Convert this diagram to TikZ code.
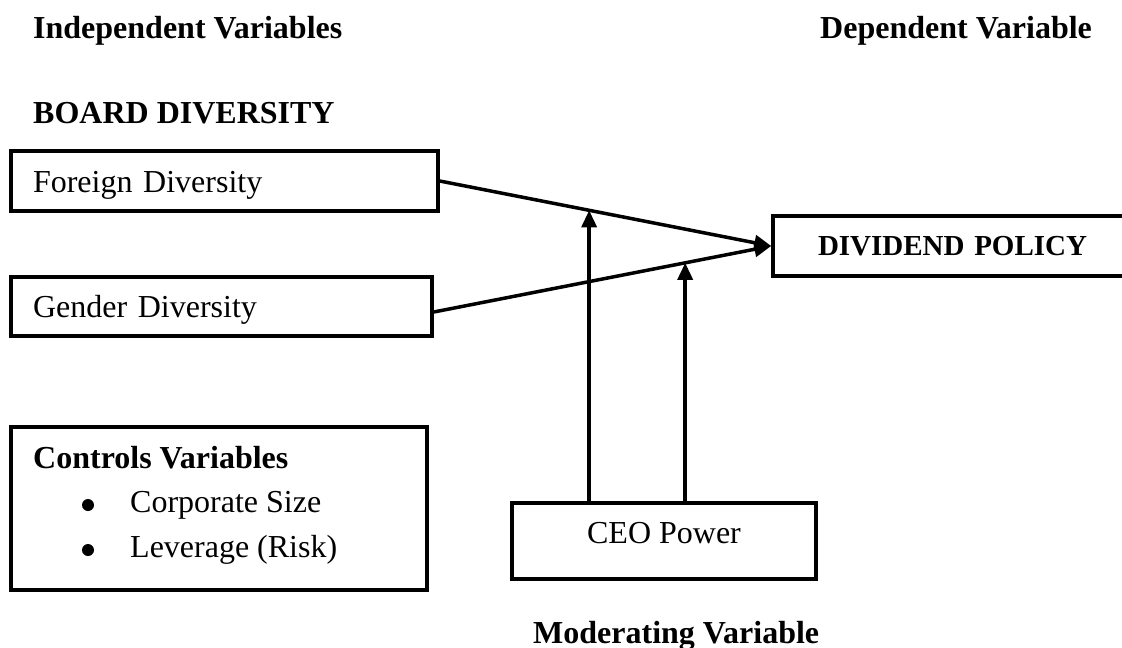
\documentclass[tikz,border=0pt]{standalone}
\usepackage{fontspec}
\setmainfont{Liberation Serif}
\usetikzlibrary{arrows.meta,calc}
\begin{document}
\begin{tikzpicture}[x=1pt,y=-1pt,
  box/.style={draw,line width=3.5pt,rectangle,inner sep=0pt,font=\fontsize{32}{38}\selectfont},
  head/.style={anchor=base west,inner sep=0pt,font=\fontsize{32}{38}\selectfont\bfseries},
  plain/.style={anchor=base west,inner sep=0pt,font=\fontsize{32}{38}\selectfont},
  dot/.style={circle,fill,inner sep=0pt,minimum size=12pt},
  conn/.style={line width=3.5pt,-{Triangle[length=17pt,width=15pt]}}]
\useasboundingbox (0,0) rectangle (1122,648);
% headings
\node[head] (indep) at (33,38) {Independent Variables};
\node[head] (dep) at (820,38) {Dependent Variable};
\node[head] (board) at (33,123) {BOARD DIVERSITY};
\node[head] (moder) at (533,643) {Moderating Variable};
% boxes
\node[box,minimum height=60pt,text width=383pt,inner xsep=22pt,align=left,text height=22pt,text depth=0pt] (foreign) at (224.5,181) {Foreign Diversity};
\node[box,minimum height=59pt,text width=377pt,inner xsep=22pt,align=left,text height=22pt,text depth=1pt] (gender) at (221.5,306.5) {Gender Diversity};
\node[box,minimum height=60pt,text width=272pt,inner xsep=45pt,align=left,text height=20pt,text depth=2pt,font=\fontsize{29}{34}\selectfont\bfseries] (dividend) at (954,246) {DIVIDEND POLICY};
\node[box,minimum width=304pt,minimum height=76pt,text height=22pt,text depth=18pt] (ceo) at (664,541) {CEO Power};
\node[box,minimum width=416pt,minimum height=163pt] (controls) at (219,508.5) {};
% controls text
\node[head] (ctitle) at (33,468) {Controls Variables};
\node[dot] (b1) at (88,505) {};
\node[plain] (t1) at (130,512) {Corporate Size};
\node[dot] (b2) at (88,550) {};
\node[plain] (t2) at (130,557) {Leverage (Risk)};
% connectors
\coordinate (gstart) at ([yshift=-5.5pt]gender.east);
\draw[conn] (foreign.east) -- (dividend.west);
\draw[conn] (gstart) -- (dividend.west);
\coordinate (m1) at ($(foreign.east)!0.4507!(dividend.west)$);
\coordinate (m2) at ($(gstart)!0.745!(dividend.west)$);
\draw[conn] (ceo.north -| m1) -- (m1);
\draw[conn] (ceo.north -| m2) -- (m2);
\end{tikzpicture}
\end{document}
